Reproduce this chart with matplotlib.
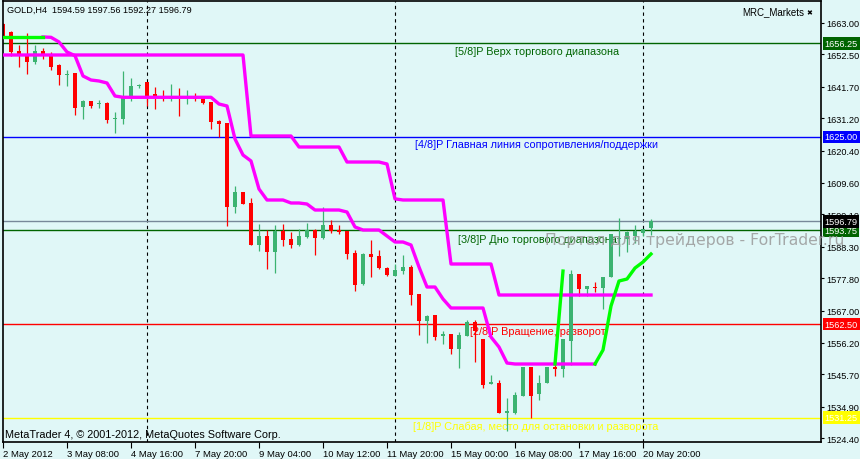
import matplotlib

matplotlib.use("Agg")
import matplotlib.pyplot as plt
import matplotlib.transforms as mtransforms
import numpy as np

# H4 candles, GOLD (bar index 0 = 2 May 2012 00:00)
opens = [1662.70, 1660.00, 1653.65, 1652.08, 1650.08, 1653.65, 1651.98, 1648.98, 1645.74, 1646.31,
         1635.06, 1636.86, 1635.86, 1636.30, 1631.06, 1630.96, 1638.30, 1641.90, 1643.31, 1639.30,
         1638.63, 1637.73, 1638.63, 1638.20, 1638.63, 1637.97, 1636.63, 1630.29, 1629.62, 1601.68,
         1606.59, 1602.92, 1589.00, 1591.90, 1586.66, 1593.57, 1590.90, 1589.00, 1591.57, 1593.91,
         1591.24, 1595.58, 1593.91, 1593.57, 1586.23, 1575.88, 1585.90, 1585.23, 1581.22, 1578.65,
         1580.32, 1581.56, 1572.54, 1563.63, 1565.54, 1558.53, 1559.29, 1554.29, 1558.63, 1563.30,
         1557.63, 1542.40, 1542.94, 1532.93, 1532.93, 1538.60, 1548.28, 1539.27, 1542.94, 1548.28,
         1547.61, 1556.96, 1579.32, 1574.31, 1574.98, 1574.65, 1578.32, 1590.90, 1590.90, 1591.90,
         1592.75, 1594.59]
highs = [1663.00, 1660.43, 1655.76, 1659.66, 1655.76, 1654.65, 1653.32, 1649.31, 1647.41, 1646.31,
         1637.30, 1636.86, 1637.30, 1636.63, 1633.29, 1647.08, 1644.64, 1642.64, 1643.31, 1641.64,
         1640.64, 1642.64, 1641.30, 1640.64, 1639.63, 1638.63, 1636.63, 1630.62, 1629.62, 1608.59,
         1606.59, 1604.59, 1595.91, 1593.91, 1595.58, 1595.91, 1593.24, 1594.24, 1596.34, 1594.24,
         1601.48, 1597.24, 1595.58, 1593.57, 1587.33, 1586.23, 1590.57, 1587.23, 1581.56, 1582.56,
         1585.56, 1582.22, 1572.54, 1565.64, 1565.54, 1560.20, 1559.29, 1559.96, 1563.97, 1563.97,
         1557.63, 1545.61, 1543.74, 1537.83, 1539.93, 1548.28, 1548.28, 1545.61, 1548.28, 1553.62,
         1557.63, 1580.66, 1579.32, 1575.32, 1576.65, 1578.32, 1592.50, 1597.91, 1593.70, 1595.58,
         1594.34, 1597.56]
lows = [1658.30, 1651.88, 1648.41, 1645.98, 1649.31, 1651.08, 1647.41, 1642.30, 1642.07, 1632.39,
        1631.06, 1634.53, 1634.53, 1629.62, 1626.38, 1629.39, 1637.06, 1641.30, 1635.40, 1634.39,
        1637.06, 1637.06, 1632.06, 1636.06, 1637.06, 1635.96, 1627.72, 1624.95, 1595.34, 1599.68,
        1602.69, 1589.00, 1587.00, 1580.99, 1579.66, 1588.67, 1588.00, 1588.67, 1591.24, 1585.66,
        1590.90, 1592.91, 1592.67, 1584.33, 1573.65, 1575.65, 1578.32, 1580.99, 1578.65, 1578.65,
        1579.32, 1568.97, 1558.96, 1556.29, 1557.29, 1555.96, 1552.62, 1547.94, 1558.53, 1549.95,
        1541.17, 1542.40, 1532.93, 1526.92, 1532.59, 1538.60, 1531.05, 1537.26, 1542.94, 1545.28,
        1544.94, 1548.95, 1571.98, 1571.98, 1573.31, 1567.64, 1578.32, 1585.33, 1586.50, 1589.57,
        1592.00, 1592.27]
closes = [1658.70, 1653.42, 1652.08, 1650.08, 1653.65, 1651.88, 1648.41, 1645.74, 1645.98, 1634.73,
          1636.86, 1635.40, 1635.96, 1630.72, 1631.30, 1638.63, 1641.97, 1642.00, 1638.63, 1638.30,
          1637.73, 1638.63, 1638.30, 1638.30, 1637.73, 1636.30, 1630.06, 1629.39, 1601.68, 1606.59,
          1602.69, 1589.00, 1591.90, 1586.66, 1593.57, 1590.67, 1589.00, 1591.90, 1593.91, 1591.34,
          1595.58, 1593.57, 1593.34, 1586.00, 1575.65, 1585.90, 1585.00, 1581.32, 1578.99, 1580.56,
          1581.56, 1572.31, 1563.63, 1565.30, 1558.29, 1559.19, 1554.29, 1558.96, 1563.30, 1560.30,
          1542.27, 1543.27, 1532.93, 1533.59, 1538.93, 1548.28, 1538.60, 1542.94, 1548.28, 1547.61,
          1557.63, 1579.32, 1574.31, 1575.32, 1574.65, 1578.32, 1592.50, 1591.30, 1593.15, 1593.57,
          1594.24, 1596.79]

# MRC indicator lines (value per bar)
mrc_upper = ([1652.32] * 31 + [1625.28] * 6 + [1621.61] * 6 + [1616.60] * 5 + [1615.94]
             + [1604.30] + [1603.92] * 6 + [1582.56] * 6 + [1572.21] * 20)
mrc_lower_start = 5
mrc_lower = ([1658.33, 1658.22, 1656.66, 1653.32, 1652.08, 1645.31, 1643.97, 1643.64, 1642.97, 1638.63]
             + [1638.20] * 12 + [1635.96, 1635.30, 1624.28, 1618.94, 1616.94, 1607.59]
             + [1603.92] * 3 + [1602.92] * 2 + [1602.58] + [1600.58] * 4 + [1599.91, 1594.91]
             + [1593.91] * 3 + [1591.90] + [1589.90] * 2 + [1588.90, 1581.56] + [1574.88] * 2
             + [1570.88] + [1567.87] * 5 + [1558.19, 1554.85, 1549.51] + [1549.18] * 11)
green_top = [1658.20] * 6
green_a_start = 69
green_a = [1549.18, 1580.20]
green_b_start = 74
green_b = [1549.18, 1553.85, 1568.54, 1576.88, 1577.55, 1581.22, 1583.23, 1585.90]

# Murrey math levels
level_values = [1656.25, 1625.00, 1593.75, 1562.50, 1531.25]
level_colors = ["#006400", "#0000ff", "#006400", "#ff0000", "#ffff00"]
level_texts = [
    "[5/8]P Верх торгового диапазона",
    "[4/8]P Главная линия сопротивления/поддержки",
    "[3/8]P Дно торгового диапазона",
    "[2/8]P Вращение, разворот",
    "[1/8]P Слабая, место для остановки и разворота",
]
level_text_x = [56.5, 51.5, 56.9, 58.4, 51.25]
level_text_y = [1653.6, 1622.6, 1590.9, 1560.2, 1528.5]
bid_price = 1596.79

price_ticks = [1663.00, 1652.50, 1641.70, 1631.20, 1620.40, 1609.60, 1599.10,
               1588.30, 1577.80, 1567.00, 1556.20, 1545.70, 1534.90, 1524.40]
date_tick_bars = [0, 8, 16, 24, 32, 40, 48, 56, 64, 72, 80]
date_labels = ["2 May 2012", "3 May 08:00", "4 May 16:00", "7 May 20:00", "9 May 04:00",
               "10 May 12:00", "11 May 20:00", "15 May 00:00", "16 May 08:00",
               "17 May 16:00", "20 May 20:00"]
week_separators = [18, 49, 80]

BG = "#e0f7f7"
UP = "#3cb371"
DOWN = "#ff0000"
FONT = "Liberation Sans"

fig = plt.figure(figsize=(8.6, 4.6), dpi=100)
fig.patch.set_facecolor(BG)
ax = fig.add_axes([3 / 860, 17 / 460, 818 / 860, 441 / 460])
ax.set_facecolor(BG)

ax.set_xlim(0, 102.25)
ax.set_ylim(1523.15, 1670.34)

for v in week_separators:
    ax.axvline(v, color="black", lw=0.8, ls=(0, (3, 3)), zorder=1)

for value, color in zip(level_values, level_colors):
    ax.axhline(value, color=color, lw=1.0, zorder=1)
ax.axhline(bid_price, color="#778899", lw=1.0, zorder=1)

for x, y, text, color in zip(level_text_x, level_text_y, level_texts, level_colors):
    ax.text(x, y, text, color=color, fontsize=7.8, family=FONT, ha="left", va="center", zorder=1.5)

# candles
x = np.arange(len(opens))
o = np.array(opens)
c = np.array(closes)
colors = [UP if cc >= oo else DOWN for oo, cc in zip(o, c)]
ax.vlines(x, lows, highs, colors=colors, lw=0.9, zorder=2)
body_bottom = np.minimum(o, c)
body_height = np.maximum(np.abs(c - o), 0.35)
ax.bar(x, body_height, bottom=body_bottom, width=0.62, color=colors, edgecolor="none", zorder=2.2)

# indicator lines
ax.plot(np.arange(len(mrc_upper)), mrc_upper, color="#ff00ff", lw=2.4, zorder=3)
ax.plot(np.arange(mrc_lower_start, mrc_lower_start + len(mrc_lower)), mrc_lower,
        color="#ff00ff", lw=2.4, zorder=3)
ax.plot(np.arange(len(green_top)), green_top, color="#00ff00", lw=2.4, zorder=3.1)
ax.plot(np.arange(green_a_start, green_a_start + len(green_a)), green_a, color="#00ff00", lw=2.4, zorder=3.1)
ax.plot(np.arange(green_b_start, green_b_start + len(green_b)), green_b, color="#00ff00", lw=2.4, zorder=3.1)

# axes styling
for side in ["left", "right", "top", "bottom"]:
    ax.spines[side].set_color("black")
    ax.spines[side].set_linewidth(1.2)
ax.yaxis.tick_right()
ax.set_yticks(price_ticks)
ax.set_yticklabels([f"{p:.2f}" for p in price_ticks])
ax.tick_params(axis="y", length=2.5, width=0.8, pad=1, labelsize=6.6, colors="black")
ax.set_xticks(date_tick_bars)
ax.set_xticklabels(date_labels)
ax.tick_params(axis="x", length=4, width=0.8, pad=1, labelsize=6.8, colors="black")
for lbl in ax.get_xticklabels() + ax.get_yticklabels():
    lbl.set_family(FONT)
for lbl in ax.get_xticklabels():
    lbl.set_horizontalalignment("left")

# price boxes on the right scale
trans = mtransforms.blended_transform_factory(ax.transAxes, ax.transData)
box_prices = level_values + [bid_price]
box_colors = level_colors + ["black"]
for price, color in zip(box_prices, box_colors):
    ax.annotate(f"{price:.2f}", xy=(1, price), xycoords=trans, xytext=(2.6, 0),
                textcoords="offset points", ha="left", va="center", fontsize=6.6, family=FONT,
                color="white", annotation_clip=False, zorder=5,
                bbox=dict(boxstyle="square,pad=0.2", fc=color, ec="none"))

fig.text(7 / 860, 1 - 10 / 460, "GOLD,H4  1594.59 1597.56 1592.27 1596.79", fontsize=6.6,
         family=FONT, ha="left", va="center")
fig.text(742 / 860, 1 - 12 / 460, "MRC_Markets", fontsize=7, family=FONT, ha="left", va="center")
fig.text(809 / 860, 1 - 13 / 460, "✖", fontsize=5, ha="center", va="center")
fig.text(5 / 860, 1 - 435 / 460, "MetaTrader 4, © 2001-2012, MetaQuotes Software Corp.",
         fontsize=7.8, family=FONT, ha="left", va="center")
fig.text(545 / 860, 1 - 241 / 460, "Портал для трейдеров - ForTrader.ru", fontsize=11.3,
         family="DejaVu Sans", color="#9a9a9a", alpha=0.85, ha="left", va="center", zorder=6)

fig.savefig("out.png", dpi=100, facecolor=BG)
